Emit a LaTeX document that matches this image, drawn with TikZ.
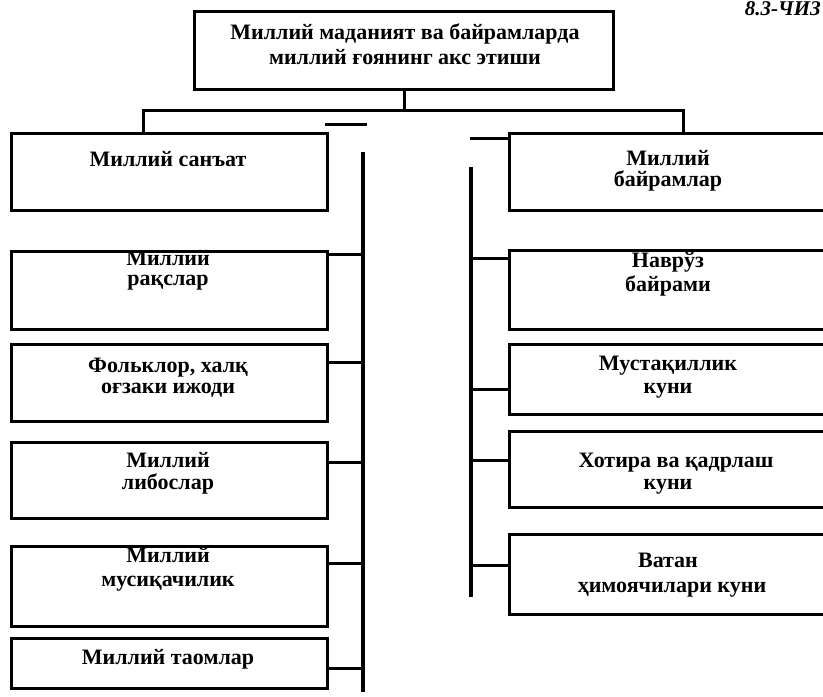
\documentclass[tikz,border=0pt]{standalone}
\usepackage{fontspec}
\setmainfont{Liberation Serif}
\begin{document}
\begin{tikzpicture}[x=1pt,y=-1pt,
  box/.style={draw,line width=3pt,inner sep=0pt,anchor=north west},
  wire/.style={line width=3pt},
  bus/.style={line width=3.4pt},
  txt/.style={font=\fontsize{22}{22}\selectfont\bfseries,inner sep=0pt,anchor=base},
]
\useasboundingbox (0,0) rectangle (823,697);
% boxes
\node[box,minimum width=419pt,minimum height=78pt] (top) at (193,10) {};
\node[box,minimum width=316pt,minimum height=77pt] (ls) at (10,132) {};
\node[box,minimum width=316pt,minimum height=78pt] (l1) at (10,250) {};
\node[box,minimum width=316pt,minimum height=77pt] (l2) at (10,343) {};
\node[box,minimum width=316pt,minimum height=76pt] (l3) at (10,441) {};
\node[box,minimum width=316pt,minimum height=80pt] (l4) at (10,545) {};
\node[box,minimum width=316pt,minimum height=50pt] (l5) at (10,637) {};
\node[box,minimum width=330pt,minimum height=77pt] (rb) at (508,132) {};
\node[box,minimum width=330pt,minimum height=79pt] (r1) at (508,249) {};
\node[box,minimum width=330pt,minimum height=70pt] (r2) at (508,343) {};
\node[box,minimum width=330pt,minimum height=76pt] (r3) at (508,430) {};
\node[box,minimum width=330pt,minimum height=80pt] (r4) at (508,533) {};
% texts
\node[txt] (tt1) at (405,39) {Миллий маданият ва байрамларда};
\node[txt] (tt2) at (405,64) {миллий ғоянинг акс этиши};
\node[txt] (tls) at (168,166) {Миллий санъат};
\node[txt] (tl1a) at (168,265) {Миллий};
\node[txt] (tl1b) at (168,285) {рақслар};
\node[txt] (tl2a) at (168,372) {Фольклор, халқ};
\node[txt] (tl2b) at (168,393) {оғзаки ижоди};
\node[txt] (tl3a) at (168,467) {Миллий};
\node[txt] (tl3b) at (168,489) {либослар};
\node[txt] (tl4a) at (168,562) {Миллий};
\node[txt] (tl4b) at (168,586) {мусиқачилик};
\node[txt] (tl5) at (168,664) {Миллий таомлар};
\node[txt] (trba) at (668,165) {Миллий};
\node[txt] (trbb) at (668,186) {байрамлар};
\node[txt] (tr1a) at (668,267) {Наврўз};
\node[txt] (tr1b) at (668,291) {байрами};
\node[txt] (tr2a) at (668,370) {Мустақиллик};
\node[txt] (tr2b) at (668,393) {куни};
\node[txt] (tr3a) at (676,467) {Хотира ва қадрлаш};
\node[txt] (tr3b) at (668,489) {куни};
\node[txt] (tr4a) at (668,567) {Ватан};
\node[txt] (tr4b) at (672,592) {ҳимоячилари куни};
\node[font=\fontsize{21}{21}\selectfont\bfseries\itshape,inner sep=0pt,anchor=base east] (fig) at (821,15) {8.3-ЧИЗ};
% top connectors
\coordinate (hl) at (143,110);
\coordinate (hr) at (683,110);
\draw[wire] (top.south) -- (top.south |- hl);
\draw[wire] (ls.north -| hl) -- (hl) -- (hr) -- (hr |- rb.north);
% left bus
\coordinate (lbt) at (363,152);
\coordinate (lbb) at (363,692);
\draw[bus] (lbt) -- (lbb);
\coordinate (ld1) at (325,124);
\coordinate (ld2) at (367,124);
\draw[wire] (ld1) -- (ld2);
\path ([yshift=-4pt]l1.north east) coordinate (c1)
      ([yshift=-19pt]l2.north east) coordinate (c2)
      ([yshift=-21pt]l3.north east) coordinate (c3)
      ([yshift=-18pt]l4.north east) coordinate (c4)
      ([yshift=-31pt]l5.north east) coordinate (c5);
\foreach \c in {c1,c2,c3,c4,c5} \draw[wire] (\c) -- (\c -| lbt);
% right bus
\coordinate (rbt) at (471,167);
\coordinate (rbb) at (471,597);
\draw[bus] (rbt) -- (rbb);
\coordinate (rd) at (470,138);
\draw[wire] (rd) -- (rd -| rb.west);
\path ([yshift=-9pt]r1.north west) coordinate (d1)
      ([yshift=-46pt]r2.north west) coordinate (d2)
      ([yshift=-30pt]r3.north west) coordinate (d3)
      ([yshift=-32pt]r4.north west) coordinate (d4);
\foreach \d in {d1,d2,d3,d4} \draw[wire] (\d) -- (\d -| rbt);
\end{tikzpicture}
\end{document}
